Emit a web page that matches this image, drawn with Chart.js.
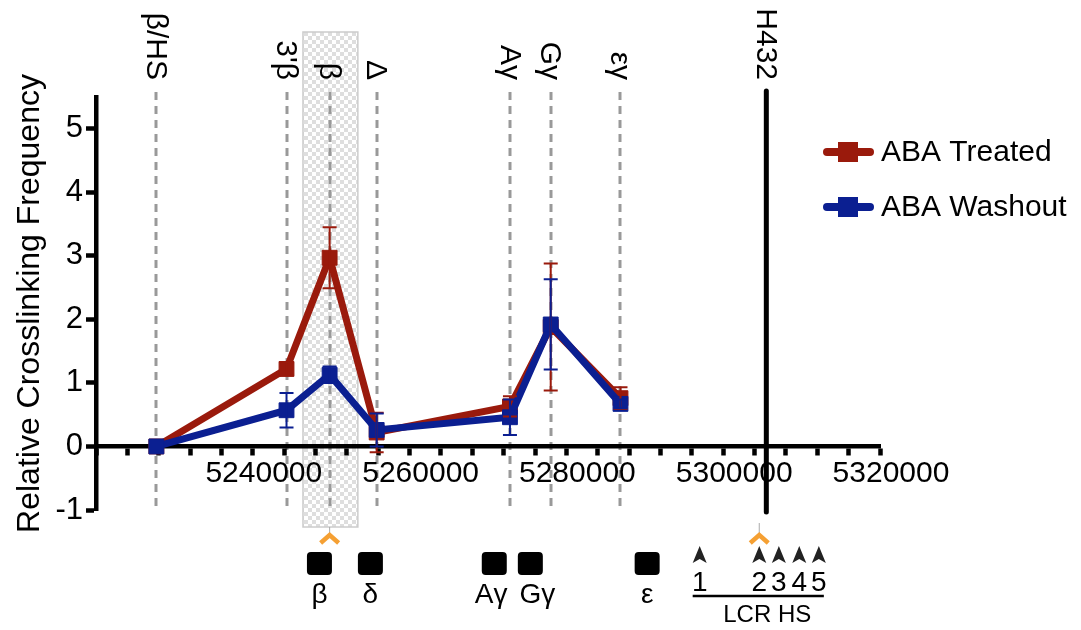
<!DOCTYPE html>
<html>
<head>
<meta charset="utf-8">
<script src="https://cdn.jsdelivr.net/npm/chart.js@4/dist/chart.umd.min.js"></script>
<style>
html,body{margin:0;padding:0;background:#fff;}
#wrap{width:1081px;height:630px;position:relative;}
</style>
</head>
<body>
<div id="wrap"><canvas id="c" width="1081" height="630"></canvas></div>
<script>
// ---- data ----
const probePositions = [5227700, 5244300, 5249800, 5255800, 5272800, 5278000, 5286900];
const probeLabels = ['β/HS', "3'β", 'β', 'Δ', 'Aγ', 'Gγ', 'εγ'];
const treatedValues = [0, 1.22, 2.97, 0.22, 0.63, 1.88, 0.76];
const treatedErrors = [0, 0.10, 0.48, 0.31, 0.16, 1.00, 0.17];
const washoutValues = [0, 0.57, 1.13, 0.26, 0.46, 1.92, 0.67];
const washoutErrors = [0, 0.27, 0.13, 0.26, 0.28, 0.71, 0.07];
const seriesNames = ['ABA Treated', 'ABA Washout'];
const anchorPosition = 5305500;
const anchorLabel = 'H432';
const xTickLabels = [5240000, 5260000, 5280000, 5300000, 5320000];
const yTickLabels = [-1, 0, 1, 2, 3, 4, 5];
const highlightRange = [5246400, 5253400];
const geneNames = ['β', 'δ', 'Aγ', 'Gγ', 'ε'];
const genePositions = [5248500, 5255000, 5270800, 5275400, 5290300];
const geneLabelPositions = [5248500, 5255000, 5270400, 5276300, 5290300];
const hsNames = ['1', '2', '3', '4', '5'];
const hsPositions = [5297000, 5304600, 5307100, 5309700, 5312200];
const viewpointPositions = [5249800, 5304600];
const lcrLabel = 'LCR HS';

const RED = '#9a1a0c';
const BLUE = '#0b1f91';
const FONT = "'Liberation Sans', Arial, Helvetica, sans-serif";
Chart.defaults.font.family = FONT;
Chart.defaults.color = '#000';

// checker pattern
const pc = document.createElement('canvas');
pc.width = 8; pc.height = 8;
const pctx = pc.getContext('2d');
pctx.fillStyle = '#ffffff'; pctx.fillRect(0,0,8,8);
pctx.fillStyle = '#dedede'; pctx.fillRect(0,0,4,4); pctx.fillRect(4,4,4,4);

function rrect(ctx, x, y, w, h, r){
  ctx.beginPath();
  ctx.moveTo(x+r, y);
  ctx.lineTo(x+w-r, y); ctx.quadraticCurveTo(x+w, y, x+w, y+r);
  ctx.lineTo(x+w, y+h-r); ctx.quadraticCurveTo(x+w, y+h, x+w-r, y+h);
  ctx.lineTo(x+r, y+h); ctx.quadraticCurveTo(x, y+h, x, y+h-r);
  ctx.lineTo(x, y+r); ctx.quadraticCurveTo(x, y, x+r, y);
  ctx.closePath();
}

const decor = {
  id: 'decor',
  beforeDraw(chart) {
    const {ctx, scales: {x}} = chart;
    ctx.save();
    const x0 = x.getPixelForValue(highlightRange[0]);
    const x1 = x.getPixelForValue(highlightRange[1]);
    ctx.fillStyle = ctx.createPattern(pc, 'repeat');
    ctx.fillRect(x0, 32, x1 - x0, 495);
    ctx.strokeStyle = '#cccccc'; ctx.lineWidth = 1.5;
    ctx.strokeRect(x0, 32, x1 - x0, 495);
    ctx.setLineDash([8, 6]);
    ctx.strokeStyle = '#999999'; ctx.lineWidth = 3;
    probePositions.forEach(p => {
      const px = Math.round(x.getPixelForValue(p));
      ctx.beginPath(); ctx.moveTo(px, 92); ctx.lineTo(px, 512); ctx.stroke();
    });
    ctx.restore();
  },
  afterDatasetsDraw(chart) {
    const {ctx, scales: {x, y}} = chart;
    ctx.save();
    const sets = [[treatedValues, treatedErrors, RED], [washoutValues, washoutErrors, BLUE]];
    sets.forEach(([vals, errs, col]) => {
      ctx.strokeStyle = col; ctx.lineWidth = 2;
      vals.forEach((v, i) => {
        const e = errs[i];
        if (!e) return;
        const px = x.getPixelForValue(probePositions[i]);
        const yt = y.getPixelForValue(v + e), yb = y.getPixelForValue(v - e);
        ctx.beginPath();
        ctx.moveTo(px, yt); ctx.lineTo(px, yb);
        ctx.moveTo(px - 7, yt); ctx.lineTo(px + 7, yt);
        ctx.moveTo(px - 7, yb); ctx.lineTo(px + 7, yb);
        ctx.stroke();
      });
    });
    // anchor line
    const ax = x.getPixelForValue(anchorPosition);
    ctx.strokeStyle = '#000'; ctx.lineWidth = 5; ctx.lineCap = 'round';
    ctx.beginPath(); ctx.moveTo(ax, 91); ctx.lineTo(ax, 512); ctx.stroke();
    ctx.restore();
  },
  afterDraw(chart) {
    const {ctx, scales: {x}} = chart;
    ctx.save();
    // rotated top labels
    ctx.fillStyle = '#000';
    ctx.font = '30px ' + FONT;
    const tops = probePositions.map((p, i) => [p, probeLabels[i]]).concat([[anchorPosition, anchorLabel]]);
    tops.forEach(([p, t]) => {
      const px = x.getPixelForValue(p);
      ctx.save();
      ctx.translate(px, 80);
      ctx.rotate(Math.PI / 2);
      ctx.textAlign = 'right'; ctx.textBaseline = 'middle';
      ctx.fillText(t, 0, 1);
      ctx.restore();
    });
    // legend
    const ds = chart.data.datasets;
    [152, 207].forEach((ly, i) => {
      const col = ds[i].borderColor;
      ctx.strokeStyle = col; ctx.lineWidth = 8; ctx.lineCap = 'round';
      ctx.beginPath(); ctx.moveTo(827, ly); ctx.lineTo(870, ly); ctx.stroke();
      ctx.fillStyle = col; ctx.fillRect(838, ly - 10, 20, 20);
      ctx.fillStyle = '#000'; ctx.font = '30px ' + FONT;
      ctx.textAlign = 'left'; ctx.textBaseline = 'middle';
      ctx.fillText(ds[i].label, 881, ly + 1);
    });
    // genes
    ctx.textAlign = 'center'; ctx.textBaseline = 'alphabetic';
    genePositions.forEach((p, i) => {
      const px = x.getPixelForValue(p);
      ctx.fillStyle = '#000';
      rrect(ctx, px - 12.5, 552, 25, 23, 4); ctx.fill();
      ctx.font = '28px ' + FONT;
      ctx.fillText(geneNames[i], x.getPixelForValue(geneLabelPositions[i]), 603);
    });
    // LCR HS arrowheads
    hsPositions.forEach((p, i) => {
      const px = x.getPixelForValue(p);
      ctx.fillStyle = '#222';
      ctx.beginPath();
      ctx.moveTo(px, 546); ctx.lineTo(px + 7, 563); ctx.lineTo(px, 559); ctx.lineTo(px - 7, 563);
      ctx.closePath(); ctx.fill();
      ctx.fillStyle = '#000'; ctx.font = '28px ' + FONT;
      ctx.fillText(hsNames[i], px, 591);
    });
    const hx0 = x.getPixelForValue(hsPositions[0]) - 7;
    const hx1 = x.getPixelForValue(hsPositions[hsPositions.length - 1]) + 5;
    ctx.strokeStyle = '#000'; ctx.lineWidth = 2.5; ctx.lineCap = 'butt';
    ctx.beginPath(); ctx.moveTo(hx0, 596); ctx.lineTo(hx1, 596); ctx.stroke();
    ctx.font = '24px ' + FONT;
    ctx.fillText(lcrLabel, (hx0 + hx1) / 2 + 9, 622);
    // viewpoint chevrons
    viewpointPositions.forEach((p, i) => {
      const px = x.getPixelForValue(p);
      ctx.strokeStyle = '#aaaaaa'; ctx.lineWidth = 1;
      ctx.beginPath(); ctx.moveTo(px, i === 0 ? 527 : 523); ctx.lineTo(px, 533); ctx.stroke();
      ctx.strokeStyle = '#f5a033'; ctx.lineWidth = 4.5; ctx.lineCap = 'butt'; ctx.lineJoin = 'miter';
      ctx.beginPath(); ctx.moveTo(px - 9, 543); ctx.lineTo(px, 535); ctx.lineTo(px + 9, 543); ctx.stroke();
    });
    ctx.restore();
  }
};

const mkPoints = vals => vals.map((v, i) => ({x: probePositions[i], y: v}));

new Chart(document.getElementById('c'), {
  type: 'line',
  data: {
    datasets: [
      {label: seriesNames[0], data: mkPoints(treatedValues), borderColor: RED, backgroundColor: RED,
       borderWidth: 7, pointStyle: 'rect', pointRadius: 10.5, pointBorderWidth: 1, tension: 0, order: 1},
      {label: seriesNames[1], data: mkPoints(washoutValues), borderColor: BLUE, backgroundColor: BLUE,
       borderWidth: 7, pointStyle: 'rect', pointRadius: 10.5, pointBorderWidth: 1, tension: 0, order: 0}
    ]
  },
  options: {
    responsive: false,
    animation: false,
    devicePixelRatio: 1,
    layout: {padding: {left: 0, top: 97, right: 201, bottom: 120}},
    plugins: {legend: {display: false}, tooltip: {enabled: false}},
    scales: {
      x: {
        type: 'linear',
        position: {y: 0},
        min: 5220000, max: 5320000,
        grid: {drawOnChartArea: false, drawTicks: true, tickLength: 7, tickWidth: 4.5, tickColor: '#000'},
        border: {display: true, color: '#000', width: 4.5},
        ticks: {
          stepSize: 4000, maxTicksLimit: 1000, autoSkip: false, maxRotation: 0, minRotation: 0,
          includeBounds: false, labelOffset: 11, padding: 2,
          font: {size: 30}, color: '#000',
          callback: v => xTickLabels.includes(v) ? String(v) : ''
        }
      },
      y: {
        type: 'linear',
        position: 'left',
        min: -1, max: 5.5,
        afterFit: s => { s.width = 96; },
        grid: {drawOnChartArea: false, drawTicks: true, tickLength: 10, tickWidth: 4.5, tickColor: '#000'},
        border: {display: true, color: '#000', width: 4.5},
        ticks: {
          stepSize: 1, includeBounds: false, padding: 3,
          font: {size: 31}, color: '#000',
          callback: v => yTickLabels.includes(v) ? String(v) : ''
        },
        title: {display: true, text: 'Relative Crosslinking Frequency', font: {size: 32}, color: '#000',
                padding: {top: 11, bottom: 0}}
      }
    }
  },
  plugins: [decor]
});
</script>
</body>
</html>
